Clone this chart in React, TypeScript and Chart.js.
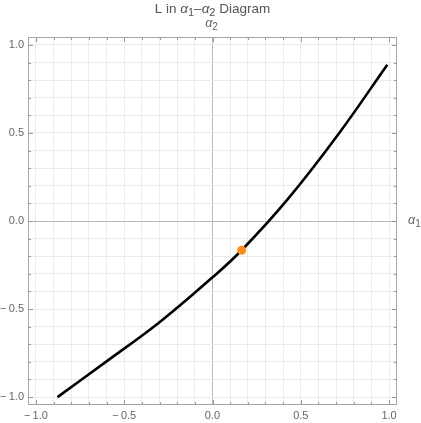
import React, { useEffect, useRef } from "react";
import { Chart, registerables } from "chart.js";

Chart.register(...registerables);

// Curve L in the α1–α2 plane
const curveX = [-0.878, -0.6, -0.3, 0.0, 0.165, 0.424, 0.718, 0.99];
const curveY = [-1.0, -0.797, -0.575, -0.32, -0.166, 0.121, 0.5, 0.888];
// Highlighted point
const markX = [0.165];
const markY = [-0.166];
// Labelled ticks
const xTickLabels = [-1.0, -0.5, 0.0, 0.5, 1.0];
const yTickLabels = [-1.0, -0.5, 0.0, 0.5, 1.0];
const axisMin = -1.045;
const axisMax = 1.045;

type Seg = { t: string; kind: "n" | "i" | "s" };

const TITLE: Seg[] = [
  { t: "L in ", kind: "n" },
  { t: "α", kind: "i" },
  { t: "1", kind: "s" },
  { t: "–", kind: "n" },
  { t: "α", kind: "i" },
  { t: "2", kind: "s" },
  { t: " Diagram", kind: "n" },
];
const X_LABEL: Seg[] = [
  { t: "α", kind: "i" },
  { t: "1", kind: "s" },
];
const Y_LABEL: Seg[] = [
  { t: "α", kind: "i" },
  { t: "2", kind: "s" },
];

const FAMILY = "'Liberation Sans', Arial, sans-serif";

function fontFor(kind: string, size: number) {
  if (kind === "i") return `italic ${size}px ${FAMILY}`;
  if (kind === "s") return `${Math.round(size * 0.78)}px ${FAMILY}`;
  return `${size}px ${FAMILY}`;
}

function drawRich(
  ctx: CanvasRenderingContext2D,
  segs: Seg[],
  x: number,
  y: number,
  size: number,
  color: string,
  align: "center" | "left"
) {
  ctx.save();
  ctx.textBaseline = "middle";
  ctx.textAlign = "left";
  ctx.fillStyle = color;
  let total = 0;
  const widths = segs.map((s) => {
    ctx.font = fontFor(s.kind, size);
    const w = ctx.measureText(s.t).width;
    total += w;
    return w;
  });
  let cx = align === "center" ? x - total / 2 : x;
  segs.forEach((s, i) => {
    ctx.font = fontFor(s.kind, size);
    const dy = s.kind === "s" ? size * 0.28 : 0;
    ctx.fillText(s.t, cx, y + dy);
    cx += widths[i];
  });
  ctx.restore();
}

function fmt(v: number) {
  const s = Math.abs(v).toFixed(1);
  return v < -1e-9 ? "\u2212\u2009" + s : s;
}

const framePlugin = {
  id: "framePlugin",
  afterDraw(chart: any) {
    const { ctx, chartArea } = chart;
    const xs = chart.scales.x;
    const ys = chart.scales.y;
    const { left, right, top, bottom } = chartArea;
    ctx.save();
    // frame
    ctx.strokeStyle = "#a6a6a6";
    ctx.lineWidth = 1;
    ctx.strokeRect(left + 0.5, top + 0.5, right - left - 1, bottom - top - 1);
    // inward ticks
    ctx.strokeStyle = "#9a9a9a";
    ctx.beginPath();
    xs.ticks.forEach((t: any) => {
      const v = t.value;
      const major = Math.abs(v * 2 - Math.round(v * 2)) < 1e-6;
      const len = major ? 5 : 3;
      const px = Math.round(xs.getPixelForValue(v)) + 0.5;
      ctx.moveTo(px, bottom);
      ctx.lineTo(px, bottom - len);
      ctx.moveTo(px, top);
      ctx.lineTo(px, top + len);
    });
    ys.ticks.forEach((t: any) => {
      const v = t.value;
      const major = Math.abs(v * 2 - Math.round(v * 2)) < 1e-6;
      const len = major ? 5 : 3;
      const py = Math.round(ys.getPixelForValue(v)) + 0.5;
      ctx.moveTo(left, py);
      ctx.lineTo(left + len, py);
      ctx.moveTo(right, py);
      ctx.lineTo(right - len, py);
    });
    ctx.stroke();

    // tick labels
    ctx.fillStyle = "#666666";
    ctx.font = `11px ${FAMILY}`;
    ctx.textBaseline = "middle";
    ctx.textAlign = "center";
    xTickLabels.forEach((v) => {
      ctx.fillText(fmt(v), xs.getPixelForValue(v), bottom + 11);
    });
    ctx.textAlign = "right";
    yTickLabels.forEach((v) => {
      ctx.fillText(fmt(v), left - 4, ys.getPixelForValue(v));
    });
    ctx.restore();

    // title and axis labels
    const cx = xs.getPixelForValue(0);
    drawRich(ctx, TITLE, cx, 9, 13.5, "#555555", "center");
    drawRich(ctx, Y_LABEL, cx - 1, 24, 12.5, "#666666", "center");
    drawRich(ctx, X_LABEL, right + 11, ys.getPixelForValue(0), 12.5, "#666666", "left");
  },
};

export default function App() {
  const ref = useRef<HTMLCanvasElement | null>(null);

  useEffect(() => {
    if (!ref.current) return;
    const curve = curveX.map((x, i) => ({ x, y: curveY[i] }));
    const mark = markX.map((x, i) => ({ x, y: markY[i] }));
    const chart = new Chart(ref.current, {
      type: "line",
      data: {
        datasets: [
          {
            type: "scatter",
            data: mark,
            backgroundColor: "#ff8c1a",
            borderColor: "#ff8c1a",
            pointRadius: 4.5,
            pointHoverRadius: 4.5,
            borderWidth: 0,
          } as any,
          {
            data: curve,
            borderColor: "#000000",
            borderWidth: 2.6,
            pointRadius: 0,
            fill: false,
            tension: 0.4,
          },
        ],
      },
      options: {
        responsive: false,
        animation: false,
        devicePixelRatio: 1,
        layout: { padding: { left: 28, top: 37, right: 24, bottom: 18 } },
        plugins: {
          legend: { display: false },
          tooltip: { enabled: false },
          title: { display: false },
        },
        scales: {
          x: {
            type: "linear",
            min: axisMin,
            max: axisMax,
            border: { display: false },
            ticks: { display: false, stepSize: 0.1, includeBounds: false },
            grid: {
              drawTicks: false,
              tickLength: 0,
              color: (c: any) =>
                Math.abs(c.tick?.value ?? 1) < 1e-9 ? "#b8b8b8" : "#ebebeb",
              lineWidth: 1,
            },
          },
          y: {
            type: "linear",
            min: axisMin,
            max: axisMax,
            border: { display: false },
            ticks: { display: false, stepSize: 0.1, includeBounds: false },
            grid: {
              drawTicks: false,
              tickLength: 0,
              color: (c: any) =>
                Math.abs(c.tick?.value ?? 1) < 1e-9 ? "#b8b8b8" : "#ebebeb",
              lineWidth: 1,
            },
          },
        },
      },
      plugins: [framePlugin],
    });
    return () => chart.destroy();
  }, []);

  return (
    <div style={{ position: "fixed", left: 0, top: 0, width: 421, height: 423, background: "#fff" }}>
      <canvas ref={ref} width={421} height={423} style={{ display: "block" }} />
    </div>
  );
}
